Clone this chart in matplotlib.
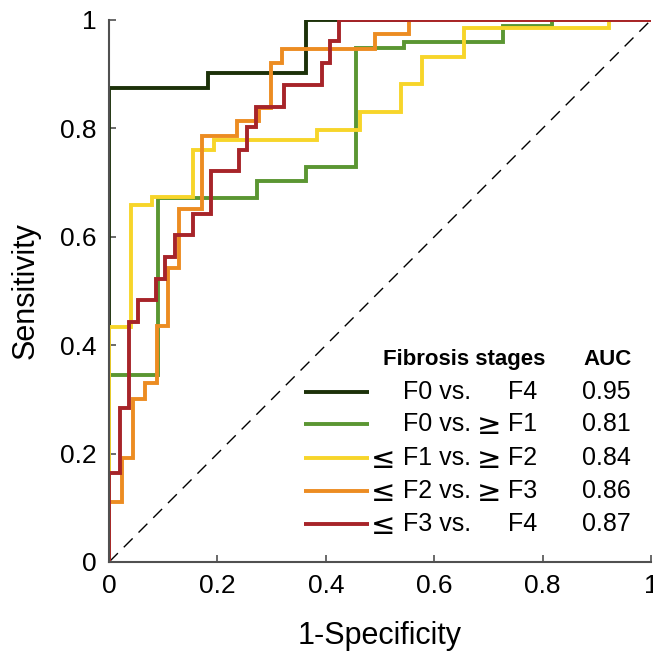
import matplotlib
matplotlib.use("Agg")
import matplotlib.pyplot as plt

plt.rcParams['font.family'] = ['Liberation Sans', 'DejaVu Sans']

# ROC points: x = 1-specificity where the curve jumps, y = sensitivity after the jump
fpr_f0_f4 = [0, 0, 0.182, 0.364, 1]
tpr_f0_f4 = [0, 0.875, 0.903, 1.0, 1.0]

fpr_f0_f1 = [0, 0, 0.091, 0.273, 0.364, 0.455, 0.545, 0.727, 0.818, 1]
tpr_f0_f1 = [0, 0.345, 0.672, 0.702, 0.729, 0.948, 0.960, 0.989, 1.0, 1.0]

fpr_f1_f2 = [0, 0, 0.040, 0.080, 0.154, 0.194, 0.384, 0.463, 0.538, 0.577, 0.654, 0.923, 1]
tpr_f1_f2 = [0, 0.434, 0.659, 0.674, 0.761, 0.779, 0.797, 0.830, 0.881, 0.932, 0.986, 1.0, 1.0]

fpr_f2_f3 = [0, 0, 0.023, 0.045, 0.066, 0.088, 0.109, 0.129, 0.171, 0.236, 0.276,
             0.299, 0.320, 0.491, 0.554, 1]
tpr_f2_f3 = [0, 0.111, 0.191, 0.300, 0.330, 0.435, 0.542, 0.651, 0.786, 0.814, 0.838,
             0.921, 0.946, 0.975, 1.0, 1.0]

fpr_f3_f4 = [0, 0, 0.020, 0.037, 0.053, 0.087, 0.103, 0.121, 0.154, 0.188, 0.239,
             0.254, 0.272, 0.322, 0.392, 0.408, 0.425, 1]
tpr_f3_f4 = [0, 0.164, 0.284, 0.443, 0.483, 0.522, 0.562, 0.603, 0.642, 0.721, 0.760,
             0.802, 0.840, 0.880, 0.921, 0.961, 1.0, 1.0]

# legend columns: left sign, left stage, right sign, right stage, AUC
left_sign = ['', '', '\u2264', '\u2264', '\u2264']
left_stage = ['F0 vs.', 'F0 vs.', 'F1 vs.', 'F2 vs.', 'F3 vs.']
right_sign = ['', '\u2265', '\u2265', '\u2265', '']
right_stage = ['F4', 'F1', 'F2', 'F3', 'F4']
auc = [0.95, 0.81, 0.84, 0.86, 0.87]

colors = ['#1c3109', '#5b9632', '#f7d52a', '#ec8c22', '#a72429']

curves = [(fpr_f0_f4, tpr_f0_f4), (fpr_f0_f1, tpr_f0_f1), (fpr_f1_f2, tpr_f1_f2),
          (fpr_f2_f3, tpr_f2_f3), (fpr_f3_f4, tpr_f3_f4)]

fig = plt.figure(figsize=(6.53, 6.57), dpi=100)
ax = fig.add_axes([0.167, 0.1446, 0.83, 0.825])

ax.plot([0, 1], [0, 1], color='black', lw=1.0, dashes=(9, 6))
for (x, y), c in zip(curves, colors):
    ax.plot(x, y, drawstyle='steps-post', color=c, lw=2.8, solid_joinstyle='miter')

ax.set_xlim(0, 1)
ax.set_ylim(0, 1)
ticks = [0, 0.2, 0.4, 0.6, 0.8, 1]
ax.set_xticks(ticks)
ax.set_yticks(ticks)
ax.set_xticklabels(['%g' % t for t in ticks])
ax.set_yticklabels(['%g' % t for t in ticks])
ax.tick_params(direction='in', length=5, width=1.2, color='#505050',
               labelsize=19, pad=9)
for s in ['top', 'right']:
    ax.spines[s].set_visible(False)
for s in ['left', 'bottom']:
    ax.spines[s].set_color('#505050')
    ax.spines[s].set_linewidth(1.5)

ax.set_xlabel('1-Specificity', fontsize=22, labelpad=16)
ax.set_ylabel('Sensitivity', fontsize=22, labelpad=14)

# hand-built legend table
ax.text(0.506, 0.373, 'Fibrosis stages', transform=ax.transAxes, fontsize=16,
        fontweight='bold', va='center')
ax.text(0.875, 0.373, 'AUC', transform=ax.transAxes, fontsize=16,
        fontweight='bold', va='center')
row_y = [0.314, 0.254, 0.192, 0.131, 0.070]
for i, yy in enumerate(row_y):
    ax.plot([0.360, 0.480], [yy, yy], transform=ax.transAxes, color=colors[i],
            lw=2.8, solid_capstyle='butt', clip_on=False)
    ax.text(0.484, yy - 0.003, left_sign[i], transform=ax.transAxes, fontsize=21,
            family='DejaVu Sans', va='center')
    ax.text(0.542, yy, left_stage[i], transform=ax.transAxes, fontsize=18, va='center')
    ax.text(0.679, yy - 0.003, right_sign[i], transform=ax.transAxes, fontsize=21,
            family='DejaVu Sans', va='center')
    ax.text(0.736, yy, right_stage[i], transform=ax.transAxes, fontsize=18, va='center')
    ax.text(0.873, yy, '%.2f' % auc[i], transform=ax.transAxes, fontsize=18, va='center')

fig.savefig('out.png', dpi=100)
